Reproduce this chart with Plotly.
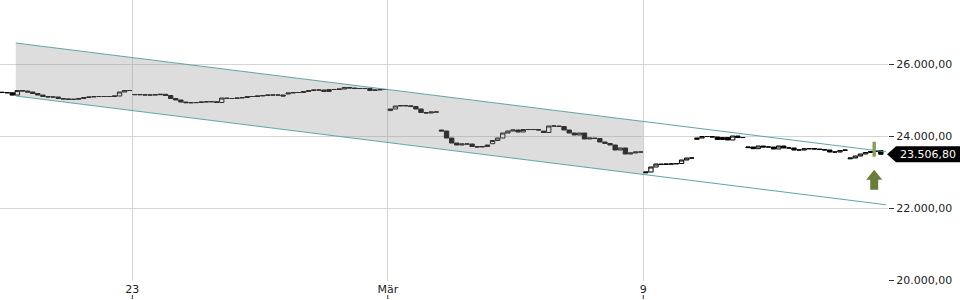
import plotly.graph_objects as go

# ---------------- data ----------------
# trading-day index relative to Mon 23 Feb (0); 10 intraday bars per day
day_labels = ["18.02", "19.02", "20.02", "23.02", "24.02", "25.02", "26.02", "27.02",
              "02.03", "03.03", "04.03", "05.03", "06.03", "09.03", "10.03", "11.03",
              "12.03", "13.03"]
day_index = [-3, -2, -1, 0, 1, 2, 3, 4, 5, 6, 7, 8, 9, 10, 11, 12, 13, 14]
first_slot = [4, 0, 0, 0, 0, 0, 0, 0, 0, 0, 0, 0, 0, 0, 0, 0, 0, 0]
slots_per_day = 10

# each list: opening price followed by the closes of the intraday bars
day_prices = [
    [25230, 25222, 25215, 25150, 25278, 25264, 25236],
    [25236, 25194, 25153, 25111, 25097, 25097, 25056, 25042, 25033, 25033, 25056],
    [25056, 25083, 25097, 25111, 25111, 25111, 25111, 25125, 25236, 25278, 25278],
    [25160, 25167, 25161, 25153, 25153, 25161, 25172, 25139, 25056, 25014, 24958],
    [24958, 24939, 24939, 24944, 24958, 24967, 24967, 24944, 25069, 25056, 25056],
    [25056, 25069, 25083, 25111, 25111, 25125, 25139, 25153, 25153, 25153, 25125],
    [25180, 25208, 25222, 25222, 25250, 25278, 25292, 25292, 25250, 25306, 25306],
    [25306, 25319, 25361, 25347, 25333, 25333, 25333, 25278, 25292, 25306, 25306],
    [24720, 24764, 24847, 24861, 24853, 24833, 24764, 24667, 24653, 24681, 24681],
    [24180, 24153, 23958, 23819, 23764, 23792, 23792, 23722, 23708, 23722, 23764],
    [23800, 23889, 23958, 24097, 24153, 24181, 24125, 24194, 24194, 24194, 24181],
    [24150, 24111, 24292, 24292, 24278, 24181, 24097, 24042, 24097, 23931, 23958],
    [23958, 23944, 23847, 23806, 23764, 23625, 23681, 23514, 23542, 23569, 23569],
    [22990, 23014, 23153, 23236, 23222, 23236, 23236, 23250, 23347, 23403, 23403],
    [23920, 23958, 24000, 24000, 23986, 23917, 23972, 23903, 24014, 23972, 23972],
    [23690, 23708, 23661, 23736, 23708, 23708, 23653, 23736, 23681, 23681, 23625],
    [23625, 23625, 23661, 23661, 23653, 23639, 23625, 23569, 23569, 23611, 23625],
    [23380, 23403, 23458, 23514, 23556, 23583, 23611, 23506.80],
]

# trend channel: start, end of shaded part, end of lines
channel_x = [-2.28, 10.0, 14.75]
channel_upper = [26597, 24420, 23576]
channel_lower = [25125, 22947, 22104]

# signal candle (Mar 13)
signal_x = 14.52
signal_high = 23856
signal_low = 23439

x_tickvals = [0, 5, 10]
x_ticktext = ["23", "Mär", "9"]
y_tickvals = [20000, 22000, 24000, 26000]
x_range = [-2.59, 14.79]
y_range = [19986, 27792]

# ---------------- build OHLC ----------------
xs, op, hi, lo, cl = [], [], [], [], []
for d, s0, prices in zip(day_index, first_slot, day_prices):
    for k in range(1, len(prices)):
        xs.append(d + (s0 + k - 1 + 0.5) / slots_per_day)
        o, c = prices[k - 1], prices[k]
        op.append(o); cl.append(c)
        hi.append(max(o, c)); lo.append(min(o, c))
last_price = cl[-1]

FONT = "DejaVu Sans"
fig = go.Figure()

# channel fill
fig.add_trace(go.Scatter(
    x=[channel_x[0], channel_x[1], channel_x[1], channel_x[0]],
    y=[channel_upper[0], channel_upper[1], channel_lower[1], channel_lower[0]],
    fill="toself", fillcolor="rgba(150,150,150,0.32)", line=dict(width=0),
    mode="lines", hoverinfo="skip", showlegend=False))
for ys in (channel_upper, channel_lower):
    fig.add_trace(go.Scatter(x=[channel_x[0], channel_x[2]], y=[ys[0], ys[2]],
                             mode="lines", line=dict(color="#5fa6a9", width=1),
                             hoverinfo="skip", showlegend=False))

fig.add_trace(go.Candlestick(
    x=xs, open=op, high=hi, low=lo, close=cl,
    increasing=dict(line=dict(color="#000000", width=1), fillcolor="#ffffff"),
    decreasing=dict(line=dict(color="#000000", width=1), fillcolor="#000000"),
    whiskerwidth=0, showlegend=False))

# plot geometry helpers (for decorations)
plot_w = 888
px_per_day = plot_w / (x_range[1] - x_range[0])
plot_h = 281
pts_per_px = (y_range[1] - y_range[0]) / plot_h

shapes = []
# signal candle highlight
shapes.append(dict(type="rect", xref="x", yref="y",
                   x0=signal_x - 1.7 / px_per_day, x1=signal_x + 1.7 / px_per_day,
                   y0=signal_low, y1=signal_high,
                   fillcolor="#8c9c55", line=dict(width=0), layer="above"))
# up arrow below
tip = signal_low - 13 * pts_per_px
hb = tip - 10 * pts_per_px
bot = tip - 20 * pts_per_px
hw, sw = 8 / px_per_day, 4 / px_per_day
ax = signal_x
shapes.append(dict(type="path", xref="x", yref="y",
                   path=f"M {ax},{tip} L {ax+hw},{hb} L {ax+sw},{hb} L {ax+sw},{bot} "
                        f"L {ax-sw},{bot} L {ax-sw},{hb} L {ax-hw},{hb} Z",
                   fillcolor="#6b7d3a", line=dict(width=0), layer="above"))
# price tag
hh = 8 * pts_per_px
p = last_price
x_pt, x_box, x_end = 887 / plot_w, 896 / plot_w, 961 / plot_w
shapes.append(dict(type="path", xref="paper", yref="y",
                   path=f"M {x_pt},{p} L {x_box},{p+hh} L {x_end},{p+hh} "
                        f"L {x_end},{p-hh} L {x_box},{p-hh} Z",
                   fillcolor="#000000", line=dict(width=0), layer="above"))
# x tick marks below the labels
for tv in x_tickvals:
    shapes.append(dict(type="line", xref="x", yref="paper", x0=tv, x1=tv,
                       y0=-14 / plot_h, y1=-18 / plot_h,
                       line=dict(color="#333333", width=1)))

fig.update_layout(
    width=960, height=300,
    margin=dict(l=0, r=960 - plot_w, t=0, b=300 - plot_h),
    paper_bgcolor="#ffffff", plot_bgcolor="#ffffff",
    separators=",.",
    boxgap=0.15, boxgroupgap=0.0,
    font=dict(family=FONT, size=11, color="#222222"),
    shapes=shapes,
    annotations=[dict(xref="paper", yref="y", x=898 / plot_w, y=last_price,
                      text=f"{last_price:,.2f}".replace(",", "X").replace(".", ",").replace("X", "."),
                      showarrow=False, xanchor="left", yanchor="middle",
                      font=dict(family=FONT, size=11, color="#ffffff"))],
    xaxis=dict(range=x_range, tickvals=x_tickvals, ticktext=x_ticktext,
               showgrid=True, gridcolor="#d4d4d4", gridwidth=1, ticks="",
               zeroline=False, showline=False, rangeslider=dict(visible=False),
               tickfont=dict(family=FONT, size=11, color="#222222")),
    yaxis=dict(range=y_range, tickvals=y_tickvals, tickformat=",.2f", side="right",
               showgrid=True, gridcolor="#d4d4d4", gridwidth=1,
               ticks="outside", ticklen=5, tickcolor="#333333",
               zeroline=False, showline=False,
               tickfont=dict(family=FONT, size=11, color="#222222")),
    showlegend=False,
)

fig.write_html("out.html")
